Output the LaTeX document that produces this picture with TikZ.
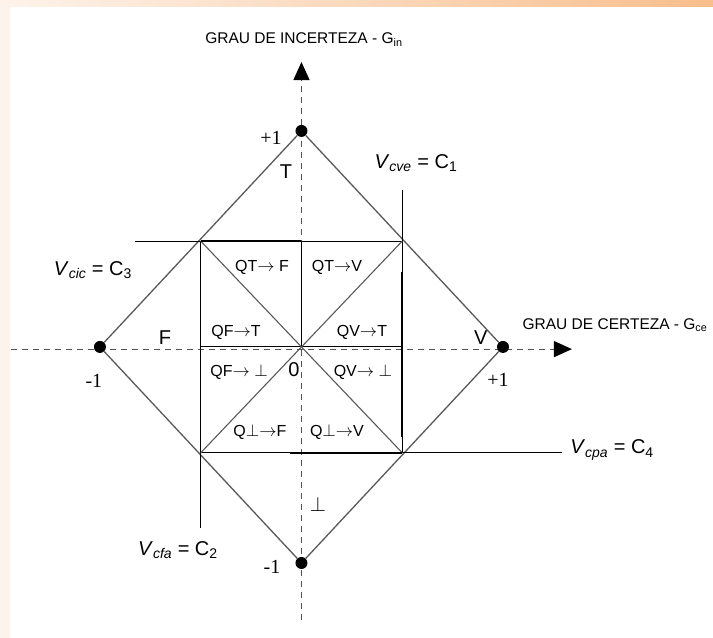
\documentclass[tikz,border=0pt]{standalone}
\usepackage{fontspec}
\setmainfont{Liberation Sans}
\newfontfamily\numfont{Liberation Serif}
\usetikzlibrary{arrows.meta}
\definecolor{slideorange}{HTML}{F8BE8C}
\definecolor{slidepale}{HTML}{FDF3EB}
\tikzset{
    dot/.style={circle,fill=black,inner sep=0pt,minimum size=12pt},
    axis/.style={gray!65!black,line width=1.2pt,dash pattern=on 6pt off 5pt},
    lbl/.style={inner sep=1pt,font=\fontsize{16}{19}\selectfont},
    big/.style={inner sep=1pt,font=\fontsize{20}{24}\selectfont},
    num/.style={inner sep=1pt,font=\numfont\fontsize{20}{24}\selectfont},
    ttl/.style={inner sep=1pt,font=\fontsize{15.5}{18}\selectfont},
}
\begin{document}
\begin{tikzpicture}[x=201.5pt,y=216pt]
    % slide border
    \useasboundingbox (-1.496,-1.343) rectangle (2.042,1.606);
    \shade[left color=slidepale,right color=slideorange] (-1.496,1.574) rectangle (2.042,1.606);
    \shade[top color=slidepale,middle color=slideorange,bottom color=slidepale] (-1.496,-1.343) rectangle (-1.446,1.574);
    % axes
    \coordinate (xs) at (-1.44,-0.01);
    \coordinate (xe) at (1.342,-0.01);
    \coordinate (ys) at (0,-1.264);
    \coordinate (ye) at (0,1.319);
    \draw[axis,-{Triangle[width=16pt,length=18pt,black]}] (xs) -- (xe);
    \draw[axis,-{Triangle[width=16pt,length=18pt,black]}] (ys) -- (ye);
    \node[ttl] (gin) at (0.012,1.421) {GRAU DE INCERTEZA - G\textsubscript{in}};
    \node[ttl] (gce) at (1.556,0.102) {GRAU DE CERTEZA - G\textsubscript{ce}};
    % extreme points
    \node[dot] (top) at (0,1) {};
    \node[dot] (left) at (-1,0) {};
    \node[dot] (right) at (1,0) {};
    \node[dot] (bot) at (0,-1) {};
    \draw[gray!70!black,line width=1.3pt] (top) -- (right) -- (bot) -- (left) -- (top);
    \node[num] (ntop) at (-0.151,0.968) {+1};
    \node[num] (nleft) at (-1.03,-0.157) {-1};
    \node[num] (nright) at (0.975,-0.153) {+1};
    \node[num] (nbot) at (-0.146,-1.019) {-1};
    % control lines
    \draw[line width=0.9pt] (-0.826,0.49) -- (0.5,0.49);
    \draw[line width=0.9pt] (0.5,0.727) -- (0.5,-0.49);
    \draw[line width=0.9pt] (-0.5,0.49) -- (-0.5,-0.838);
    \draw[line width=0.9pt] (-0.5,-0.49) -- (1.293,-0.49);
    \draw[line width=0.9pt] (-0.5,0) -- (0.5,0);
    \draw[line width=0.9pt] (0,0.49) -- (0,0);
    \draw[gray!70!black,line width=1.1pt] (-0.5,0.49) -- (0.5,-0.49);
    \draw[gray!70!black,line width=1.1pt] (0.5,0.49) -- (-0.5,-0.49);
    \draw[line width=2.2pt] (-0.5,0.49) -- (0,0.49);
    \draw[line width=2.2pt] (0.5,0.347) -- (0.5,-0.417);
    \draw[line width=2.2pt] (-0.057,-0.49) -- (0.5,-0.49);
    \node[big] (vcve) at (0.568,0.852) {\textit{V}\textsubscript{\textit{cve}} = C\textsubscript{1}};
    \node[big] (vcic) at (-1.035,0.356) {\textit{V}\textsubscript{\textit{cic}} = C\textsubscript{3}};
    \node[big] (vcfa) at (-0.613,-0.94) {\textit{V}\textsubscript{\textit{cfa}} = C\textsubscript{2}};
    \node[big] (vcpa) at (1.541,-0.477) {\textit{V}\textsubscript{\textit{cpa}} = C\textsubscript{4}};
    % states
    \node[big] (lt) at (-0.077,0.81) {T};
    \node[big] (lf) at (-0.677,0.042) {F};
    \node[big] (lv) at (0.89,0.042) {V};
    \node[big] (lb) at (0.082,-0.73) {$\perp$};
    % regions
    \node[lbl] (qtf) at (-0.196,0.366) {QT$\rightarrow$ F};
    \node[lbl] (qtv) at (0.176,0.366) {QT$\rightarrow$V};
    \node[lbl] (qft) at (-0.325,0.065) {QF$\rightarrow$T};
    \node[lbl] (qvt) at (0.3,0.065) {QV$\rightarrow$T};
    \node[lbl] (qfb) at (-0.31,-0.116) {QF$\rightarrow$ $\perp$};
    \node[lbl] (qvb) at (0.305,-0.116) {QV$\rightarrow$ $\perp$};
    \node[lbl] (qbf) at (-0.206,-0.394) {Q$\perp$$\rightarrow$F};
    \node[lbl] (qbv) at (0.176,-0.394) {Q$\perp$$\rightarrow$V};
    \node[big] (zero) at (-0.037,-0.106) {0};
\end{tikzpicture}
\end{document}
